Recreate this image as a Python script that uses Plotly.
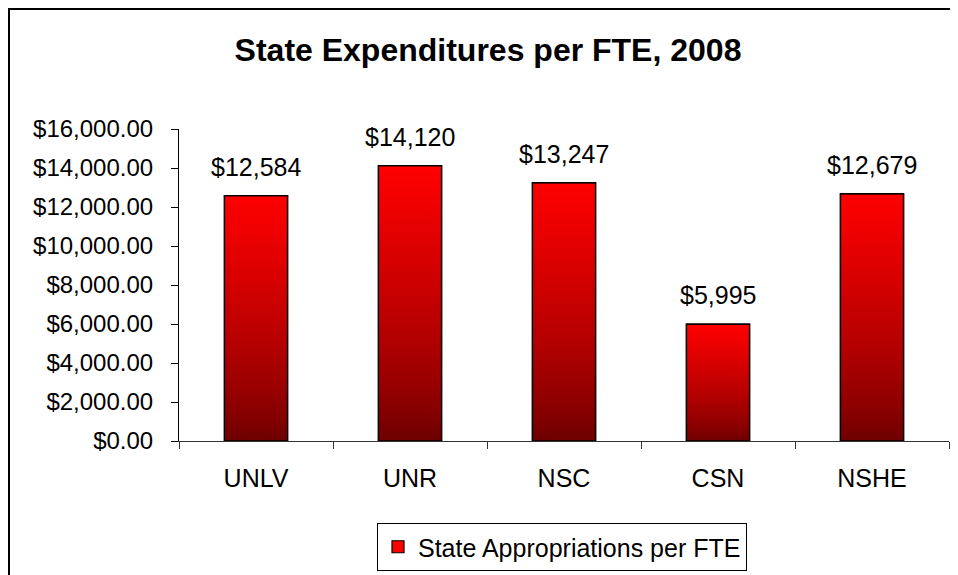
import plotly.graph_objects as go

categories = ["UNLV", "UNR", "NSC", "CSN", "NSHE"]
values = [12584, 14120, 13247, 5995, 12679]
series_name = "State Appropriations per FTE"
title_text = "State Expenditures per FTE, 2008"
y_tick_values = [0, 2000, 4000, 6000, 8000, 10000, 12000, 14000, 16000]
y_tick_labels = ["$0.00", "$2,000.00", "$4,000.00", "$6,000.00", "$8,000.00",
                 "$10,000.00", "$12,000.00", "$14,000.00", "$16,000.00"]

FONT = "Liberation Sans, Arial, sans-serif"
# page has an 8px body margin, so the figure is drawn 8px smaller and offset
OFF = 8
W, H = 958 - OFF, 575 - OFF
L, R, T, B = 179 - OFF, 9, 129 - OFF, 134
pw, ph = W - L - R, H - T - B

def grad(t):
    # t = fraction of bar height measured from the bottom
    dark = (106, 0, 0)
    bright = (255, 0, 0)
    s = min(1.0, max(0.0, t)) ** 0.75
    c = [round(dark[i] + (bright[i] - dark[i]) * s) for i in range(3)]
    return "rgb(%d,%d,%d)" % tuple(c)

fig = go.Figure()
N = 70
for k in range(N):
    frac = (N - k) / N
    fig.add_trace(go.Bar(
        x=categories,
        y=[v * frac for v in values],
        name=series_name,
        marker=dict(color=grad(frac - 0.5 / N) if k else "#ff0000",
                    line=dict(color="black", width=1.2 if k == 0 else 0)),
        showlegend=(k == 0),
        hoverinfo="skip" if k else None,
    ))
fig.add_trace(go.Bar(
    x=categories, y=values, showlegend=False,
    marker=dict(color="rgba(0,0,0,0)", line=dict(color="black", width=1.4)),
    hoverinfo="skip",
))

for c, v in zip(categories, values):
    fig.add_annotation(x=c, y=v, text="${:,}".format(v), showarrow=False,
                       yanchor="bottom", yshift=13,
                       font=dict(family=FONT, size=25, color="black"))

fig.add_shape(type="rect", xref="paper", yref="paper",
              x0=(1 - L) / pw, x1=1.3, y0=-1.0, y1=(H - B - 1) / ph,
              line=dict(color="black", width=2), layer="below")

fig.update_layout(
    width=W, height=H,
    margin=dict(l=L, r=R, t=T, b=B, autoexpand=False),
    paper_bgcolor="white", plot_bgcolor="white",
    barmode="overlay", bargap=0.59,
    font=dict(family=FONT, color="black"),
    title=dict(text="<b>" + title_text + "</b>", xref="container", yref="container",
               x=(488 - OFF) / W, y=1 - (50 - OFF) / H, xanchor="center", yanchor="middle",
               font=dict(family=FONT, size=32, color="black")),
    xaxis=dict(showline=True, linecolor="#333", linewidth=1, showgrid=False,
               automargin=False,
               ticks="outside", tickson="boundaries", ticklen=7, tickcolor="#333",
               tickfont=dict(family=FONT, size=25), ticklabelstandoff=15),
    yaxis=dict(range=[0, 16000], tickvals=y_tick_values, ticktext=y_tick_labels,
               automargin=False,
               showline=True, linecolor="black", linewidth=1, showgrid=False,
               zeroline=False, ticks="outside", ticklen=7, tickcolor="black",
               tickfont=dict(family=FONT, size=24), ticklabelstandoff=13),
    legend=dict(orientation="h", x=(562 - OFF - L) / pw, xanchor="center",
                yref="container", y=1 - (523 - OFF) / H, yanchor="top",
                bordercolor="black", borderwidth=1, bgcolor="white",
                font=dict(family=FONT, size=25)),
)

fig.write_html("out.html")
